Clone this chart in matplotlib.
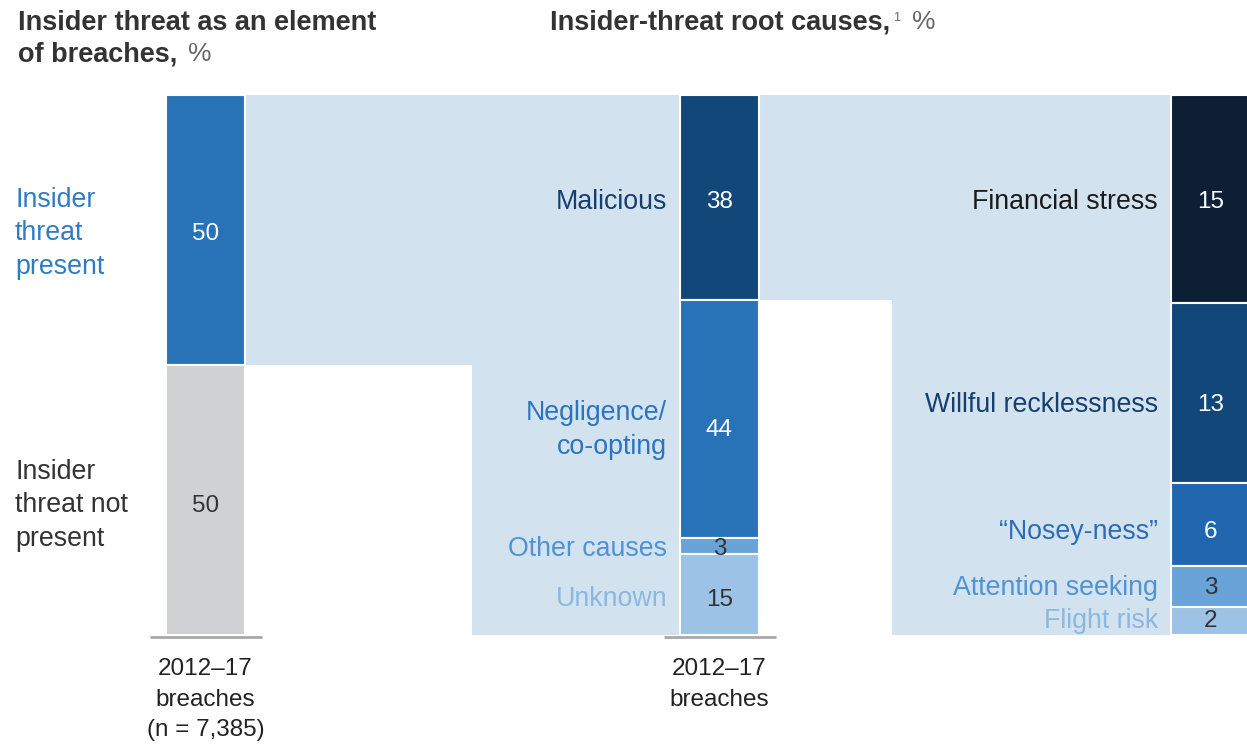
import matplotlib
matplotlib.use("Agg")
import matplotlib.pyplot as plt
from matplotlib.patches import Polygon

plt.rcParams['font.family'] = ['Liberation Sans', 'DejaVu Sans']

# --- data -------------------------------------------------------------
element_labels = ["Insider\nthreat\npresent", "Insider\nthreat not\npresent"]
element_values = [50, 50]

cause_labels = ["Malicious", "Negligence/\nco-opting", "Other causes", "Unknown"]
cause_values = [38, 44, 3, 15]

malicious_labels = ["Financial stress", "Willful recklessness", "\u201cNosey-ness\u201d",
                    "Attention seeking", "Flight risk"]
malicious_values = [15, 13, 6, 3, 2]

period_label = "2012\u201317\nbreaches"
sample_note = "(n = 7,385)"

# --- styling ----------------------------------------------------------
W, H = 1247, 745
LINK = "#d3e2ef"
element_colors = ["#2873b8", "#d0d1d3"]
element_text = ["#2f7bc4", "#333333"]
element_num = ["white", "#333333"]
cause_colors = ["#12477a", "#2873b8", "#6aa3d8", "#9cc2e5"]
cause_text = ["#163f6e", "#2a74c0", "#4f93d2", "#8ab8e0"]
cause_num = ["white", "white", "#333333", "#333333"]
mal_colors = ["#0c1f35", "#12477a", "#2067b0", "#6aa3d8", "#9cc2e5"]
mal_text = ["#1a1a1a", "#163f6e", "#2a6cb8", "#4f93d2", "#8ab8e0"]
mal_num = ["white", "white", "white", "#333333", "#333333"]

fig = plt.figure(figsize=(W / 100, H / 100), dpi=100)
ax = fig.add_axes([0, 0, 1, 1])
# y axis in percent: 0 sits at pixel row 635, 100 at row 95
px_per = 5.4
base = 635
ax.set_xlim(0, W)
ax.set_ylim(-(H - base) / px_per, base / px_per)
ax.axis("off")

bw = 79
x1, x2, x3 = 166, 680, 1171
step1, step2 = 472, 892


def stack(x, values, colors):
    spans = []
    top = 100
    for v, c in zip(values, colors):
        ax.bar(x, v, bottom=top - v, width=bw, align="edge", color=c,
               edgecolor="white", linewidth=1.5, zorder=3)
        spans.append((top - v, top))
        top -= v
    return spans


def label_stack(x, spans, labels, values, text_colors, num_colors, nudges, left=None):
    # nudges are in pixels, positive = downward
    for (lo, hi), lab, v, tc, nc, dy in zip(spans, labels, values, text_colors,
                                            num_colors, nudges):
        y = (lo + hi) / 2 - dy / px_per
        if left is None:
            ax.text(x - 13, y, lab, ha="right", va="center", fontsize=fs_lab,
                    color=tc, linespacing=1.38, zorder=4)
        else:
            ax.text(left, y, lab, ha="left", va="center", fontsize=fs_lab,
                    color=tc, linespacing=1.38, zorder=4)
        ax.text(x + bw / 2, y, str(v), ha="center", va="center", fontsize=fs_num,
                color=nc, zorder=4)


# connecting bands
present = element_values[0]
ax.add_patch(Polygon([(x1 + bw, 100), (x2, 100), (x2, 0), (step1, 0),
                      (step1, 100 - present), (x1 + bw, 100 - present)],
                     closed=True, facecolor=LINK, edgecolor="none", zorder=1))
mal = cause_values[0]
ax.add_patch(Polygon([(x2 + bw, 100), (x3, 100), (x3, 0), (step2, 0),
                      (step2, 100 - mal), (x2 + bw, 100 - mal)],
                     closed=True, facecolor=LINK, edgecolor="none", zorder=1))

seg1 = stack(x1, element_values, element_colors)
seg2 = stack(x2, cause_values, cause_colors)
mal_scaled = [v * 100 / sum(malicious_values) for v in malicious_values]
seg3 = stack(x3, mal_scaled, mal_colors)

fs_lab = 19.3
fs_num = 17.5

label_stack(x1, seg1, element_labels, element_values, element_text, element_num,
            [3.5, 5.5], left=15)
label_stack(x2, seg2, cause_labels, cause_values, cause_text, cause_num,
            [4, 11, 3.5, 5])
label_stack(x3, seg3, malicious_labels, malicious_values, mal_text, mal_num,
            [3, 12, 7.5, 1.5, 0])

# baselines
for x in (x1, x2):
    ax.plot([x - 16, x + bw + 17], [-0.35, -0.35], color="#a8a8a8", lw=2,
            solid_capstyle="butt", zorder=5)

# period labels
ax.text(x1 + bw / 2, -4.3, period_label + "\n" + sample_note, ha="center", va="top",
        fontsize=17.5, color="#222222", linespacing=1.5)
ax.text(x2 + bw / 2, -4.3, period_label, ha="center", va="top",
        fontsize=17.5, color="#222222", linespacing=1.5)

# headings
fig.canvas.draw()
renderer = fig.canvas.get_renderer()
head_kw = dict(va="top", fontsize=19.5, fontweight="bold", color="#333333")
fig.text(18 / W, 1 - 10 / H, "Insider threat as an element", **head_kw)
t = fig.text(18 / W, 1 - 42 / H, "of breaches,", **head_kw)
bb = t.get_window_extent(renderer)
fig.text((bb.x1 + 11) / W, 1 - 42 / H, "%", va="top", fontsize=19, color="#666666")

t = fig.text(550 / W, 1 - 10 / H, "Insider-threat root causes,", **head_kw)
bb = t.get_window_extent(renderer)
s = fig.text((bb.x1 + 3) / W, 1 - 12 / H, "1", va="top", fontsize=9, color="#666666")
bb2 = s.get_window_extent(renderer)
fig.text((bb2.x1 + 12) / W, 1 - 10 / H, "%", va="top", fontsize=19, color="#666666")

fig.savefig("out.png", dpi=100)
